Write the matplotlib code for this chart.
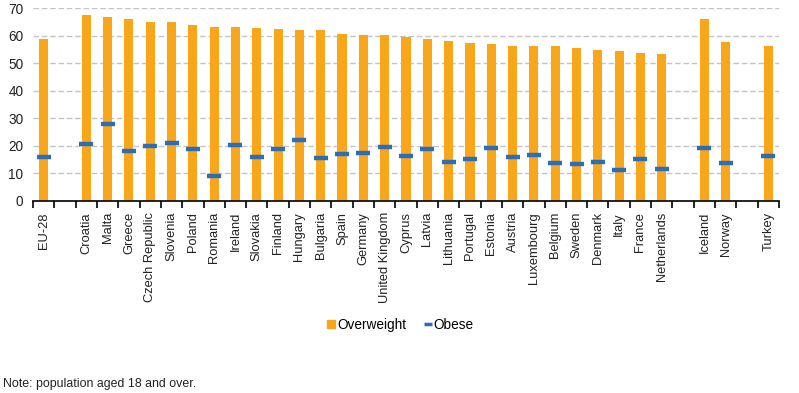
import numpy as np
import matplotlib
matplotlib.use("Agg")
import matplotlib.pyplot as plt
from matplotlib.lines import Line2D

plt.rcParams['font.family'] = ['Liberation Sans', 'DejaVu Sans']

# ---- data ----
eu_names = ["EU-28"]
eu_over = [58.9]
eu_obese = [15.9]

ms_names = ["Croatia", "Malta", "Greece", "Czech Republic", "Slovenia", "Poland",
            "Romania", "Ireland", "Slovakia", "Finland", "Hungary", "Bulgaria",
            "Spain", "Germany", "United Kingdom", "Cyprus", "Latvia", "Lithuania",
            "Portugal", "Estonia", "Austria", "Luxembourg", "Belgium", "Sweden",
            "Denmark", "Italy", "France", "Netherlands"]
ms_over = [67.6, 66.9, 66.1, 65.0, 65.0, 64.0, 63.2, 63.2, 62.9, 62.5, 62.1, 62.1,
           60.7, 60.3, 60.3, 59.6, 58.9, 58.1, 57.4, 57.0, 56.3, 56.3, 56.3, 55.6,
           54.9, 54.5, 53.8, 53.4]
ms_obese = [20.6, 27.9, 18.0, 19.9, 21.0, 18.8, 9.0, 20.2, 15.9, 18.8, 22.0, 15.5,
            17.0, 17.3, 19.5, 16.2, 18.8, 14.0, 15.1, 19.1, 15.9, 16.6, 13.7, 13.3,
            14.0, 11.1, 15.1, 11.5]

efta_names = ["Iceland", "Norway"]
efta_over = [66.1, 57.8]
efta_obese = [19.1, 13.7]

cc_names = ["Turkey"]
cc_over = [56.3]
cc_obese = [16.2]

groups = [(eu_names, eu_over, eu_obese),
          (ms_names, ms_over, ms_obese),
          (efta_names, efta_over, efta_obese),
          (cc_names, cc_over, cc_obese)]

# build slot layout with one empty slot between groups
labels, over, obese = [], [], []
for gi, (n, o, b) in enumerate(groups):
    if gi > 0:
        labels.append("")
        over.append(np.nan)
        obese.append(np.nan)
    labels += n
    over += o
    obese += b
x = np.arange(len(labels))

ORANGE = "#FAA61A"
BLUE = "#2A6EBB"

fig = plt.figure(figsize=(7.99, 3.93), dpi=100)
ax = fig.add_axes([33 / 799, 1 - 201 / 393, 746 / 799, 193 / 393])

ax.bar(x, over, width=0.43, color=ORANGE, zorder=2)
ax.plot(x, obese, linestyle='none', marker='_', markersize=9.5,
        markeredgewidth=3.2, color=BLUE, zorder=3)

ax.set_xlim(-0.5, len(labels) - 0.5)
ax.set_ylim(0, 70)
ax.set_yticks(np.arange(0, 71, 10))
ax.yaxis.grid(True, linestyle=(0, (4, 2)), color="#C4C4C4", linewidth=1, zorder=1)
ax.set_axisbelow(True)

for s in ["top", "right", "left"]:
    ax.spines[s].set_visible(False)
ax.spines["bottom"].set_color("black")
ax.spines["bottom"].set_linewidth(1.2)
ax.spines["bottom"].set_zorder(4)

ax.tick_params(axis='y', length=0, labelsize=9.8, pad=7, labelcolor="#222222")
ax.set_xticks(x)
ax.set_xticklabels(labels, rotation=90, fontsize=9.3, color="#222222")
ax.tick_params(axis='x', which='major', length=0, pad=8)
ax.set_xticks(np.arange(-0.5, len(labels), 1), minor=True)
ax.tick_params(axis='x', which='minor', length=5, width=1.2, color="black", direction='out')

handles = [Line2D([0], [0], linestyle='none', marker='s', markersize=5.5,
                  markerfacecolor=ORANGE, markeredgecolor=ORANGE),
           Line2D([0], [0], linestyle='none', marker='_', markersize=6,
                  markeredgewidth=2.5, color=BLUE)]
fig.legend(handles, ["Overweight", "Obese"], loc='center', bbox_to_anchor=(401 / 799, 1 - 325 / 393),
           ncol=2, frameon=False, fontsize=9.8, handlelength=0.5, handletextpad=0.2,
           columnspacing=1.3)

fig.text(3 / 799, 1 - 384 / 393, "Note: population aged 18 and over.", fontsize=8.9,
         va='center', ha='left', color="#222222")

fig.savefig("out.png", dpi=100)
